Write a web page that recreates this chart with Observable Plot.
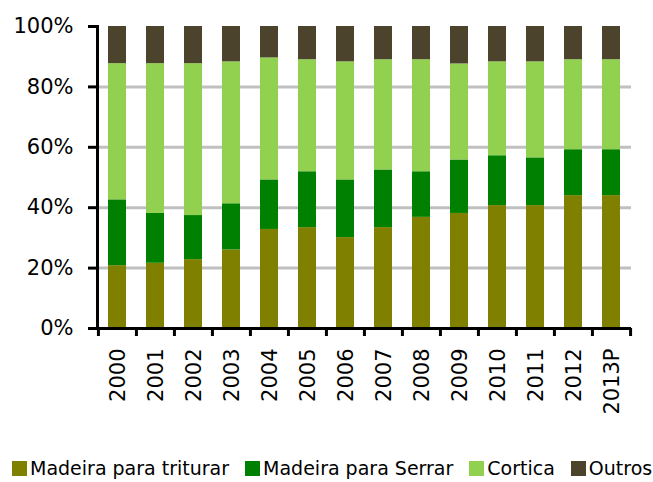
<!DOCTYPE html>
<html>
<head>
<meta charset="utf-8">
<script src="https://cdn.jsdelivr.net/npm/d3@7"></script>
<script src="https://cdn.jsdelivr.net/npm/@observablehq/plot@0.6"></script>
<style>
  html, body { margin: 0; padding: 0; background: #fff; }
  body { width: 653px; height: 482px; overflow: hidden; font-family: "DejaVu Sans", Verdana, sans-serif; }
  #legend { display: flex; align-items: center; height: 26px; padding-top: 8px; padding-left: 12px; font-size: 19px; line-height: 22px; color: #000; white-space: nowrap; }
  #legend .item { display: flex; align-items: center; margin-right: 16px; }
  #legend .sw { width: 15px; height: 15px; margin-right: 3px; }
</style>
</head>
<body>
<div id="chart"></div>
<div id="legend"></div>
<script>
const years = ["2000","2001","2002","2003","2004","2005","2006","2007","2008","2009","2010","2011","2012","2013P"];
const seriesNames = ["Madeira para triturar","Madeira para Serrar","Cortica","Outros"];
const colors = ["#808000","#008000","#92D050","#4B432B"];
const triturar = [20.8,21.6,22.8,26.0,32.8,33.4,30.1,33.4,36.8,38.1,40.7,40.7,44.0,44.0];
const serrar   = [21.8,16.5,14.6,15.3,16.4,18.5,19.1,19.1,15.1,17.7,16.5,15.8,15.2,15.2];
const cortica  = [45.1,49.6,50.3,47.0,40.4,37.1,39.1,36.5,37.1,31.8,31.1,31.8,29.8,29.8];
const outros   = [12.3,12.3,12.3,11.7,10.4,11.0,11.7,11.0,11.0,12.4,11.7,11.7,11.0,11.0];
const yTicks = [0,20,40,60,80,100];

const seriesValues = [triturar, serrar, cortica, outros];
const data = [];
seriesNames.forEach((s, si) => years.forEach((y, i) => data.push({year: y, series: s, value: seriesValues[si][i]})));

const W = 653, ML = 97, MR = 22, MT = 26, MB = 119, H = 447;
const step = (W - ML - MR) / years.length;

const chart = Plot.plot({
  width: W, height: H,
  marginLeft: ML, marginRight: MR, marginTop: MT, marginBottom: MB,
  style: {fontFamily: "DejaVu Sans, Verdana, sans-serif", background: "#fff", color: "#000"},
  x: {domain: years, paddingInner: 0.52, paddingOuter: 0.26, axis: null},
  y: {domain: [0, 100], axis: null},
  color: {domain: seriesNames, range: colors},
  marks: [
    Plot.gridY(yTicks.slice(1, 5), {stroke: "#C0C0C0", strokeOpacity: 1, strokeWidth: 3}),
    Plot.barY(data, {x: "year", y: "value", fill: "series", order: seriesNames}),
    Plot.axisY(yTicks, {tickSize: 9, tickPadding: 15, strokeWidth: 3, tickFormat: d => d + "%", fontSize: 21, label: null}),
    Plot.frame({anchor: "left", strokeWidth: 3}),
    Plot.ruleY([0], {strokeWidth: 3}),
    Plot.axisX(years, {text: null, tickSize: 8, strokeWidth: 3, dx: -step / 2, label: null}),
    Plot.axisX(years.slice(-1), {text: null, tickSize: 8, strokeWidth: 3, dx: step / 2, label: null}),
    Plot.axisX(years, {tickSize: 0, tickPadding: 20, tickRotate: -90, fontSize: 21, dx: 1, label: null})
  ]
});
document.getElementById("chart").appendChild(chart);

const legend = document.getElementById("legend");
seriesNames.forEach((s, i) => {
  const item = document.createElement("div");
  item.className = "item";
  const sw = document.createElement("div");
  sw.className = "sw";
  sw.style.background = colors[i];
  const t = document.createElement("span");
  t.textContent = s;
  item.appendChild(sw); item.appendChild(t);
  legend.appendChild(item);
});
</script>
</body>
</html>
